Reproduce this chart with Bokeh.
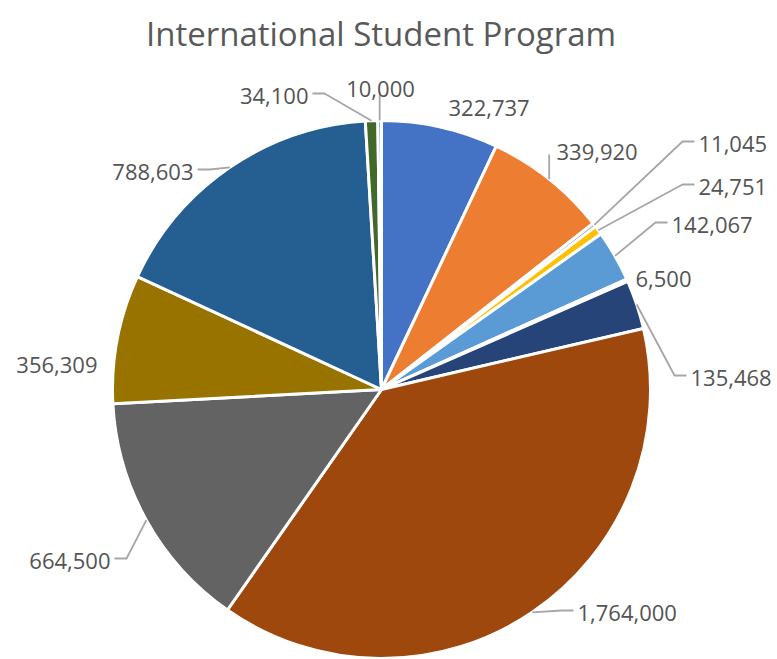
import math
from bokeh.plotting import figure
from bokeh.models import ColumnDataSource, Range1d
from bokeh.core.properties import value
from bokeh.embed import file_html
from bokeh.resources import INLINE

# ---- data ----
title = "International Student Program"
values = [322737, 339920, 11045, 24751, 142067, 6500, 135468,
          1764000, 664500, 356309, 788603, 34100, 10000]
labels = [f"{v:,}" for v in values]
colors = ["#4472C4", "#ED7D31", "#A5A5A5", "#FFC000", "#5B9BD5", "#70AD47",
          "#264478", "#9E480E", "#636363", "#997300", "#255E91", "#43682B",
          "#698ED0"]

# ---- layout (image pixel coordinates, y downwards) ----
W, H = 777, 659
CX, CY, R = 381, 389, 269
# label anchor x, baseline y, alignment, leader kind
label_x = [448, 556, 698, 698, 671, 635, 690, 577, 110, 97, 193, 308, 380]
label_y = [107, 151, 143, 186, 224, 278, 377, 612, 560, 364, 171, 95, 88]
label_align = ["left", "left", "left", "left", "left", "left", "left", "left",
               "right", "right", "right", "right", "center"]
leader_kind = [None, "v", "h", "h", "h", None, "h", "h", "h", None, "h", "h", "v"]


def dy(y):
    return H - y


total = float(sum(values))
starts, ends, mids = [], [], []
acc = 0.0
for v in values:
    a0 = acc / total * 360.0
    acc += v
    a1 = acc / total * 360.0
    starts.append(math.radians(90 - a0))
    ends.append(math.radians(90 - a1))
    mids.append((a0 + a1) / 2.0)

p = figure(width=W, height=H, output_backend="svg", toolbar_location=None,
           x_range=Range1d(0, W), y_range=Range1d(0, H),
           x_axis_type=None, y_axis_type=None, min_border=0,
           outline_line_color=None, background_fill_color="white",
           border_fill_color="white")
p.grid.visible = False

src = ColumnDataSource(dict(start=starts, end=ends, color=colors))
p.wedge(x=CX, y=dy(CY), radius=R, start_angle="start", end_angle="end",
        direction="clock", fill_color="color", line_color="white",
        line_width=3, source=src)

# leader lines
xs, ys = [], []
for i, kind in enumerate(leader_kind):
    if kind is None:
        continue
    ang = math.radians(mids[i])
    ex = CX + R * math.sin(ang)
    ey = CY - R * math.cos(ang)
    lx, ly = label_x[i], label_y[i]
    if kind == "h":
        s = -1 if label_align[i] == "left" else 1
        px = [lx + s * 4, lx + s * 16, ex]
        py = [ly - 2, ly - 2, ey]
    else:
        px = [ex, ex]
        py = [ly + 3, ey]
    xs.append(px)
    ys.append([dy(v) for v in py])
p.multi_line(xs=xs, ys=ys, line_color="#A6A6A6", line_width=1.8)

lsrc = ColumnDataSource(dict(x=label_x, y=[dy(v) for v in label_y],
                             text=labels, align=label_align))
p.text(x="x", y="y", text="text", text_align="align", text_baseline="alphabetic",
       text_font=value("Open Sans"), text_font_size="22px", text_color="#545454",
       source=lsrc)

p.text(x=[380.5], y=[dy(33)], text=[title], text_align="center",
       text_baseline="alphabetic", text_font=value("Open Sans"),
       text_font_size="33px", text_color="#595959")

open("out.html", "w").write(file_html(p, INLINE))
